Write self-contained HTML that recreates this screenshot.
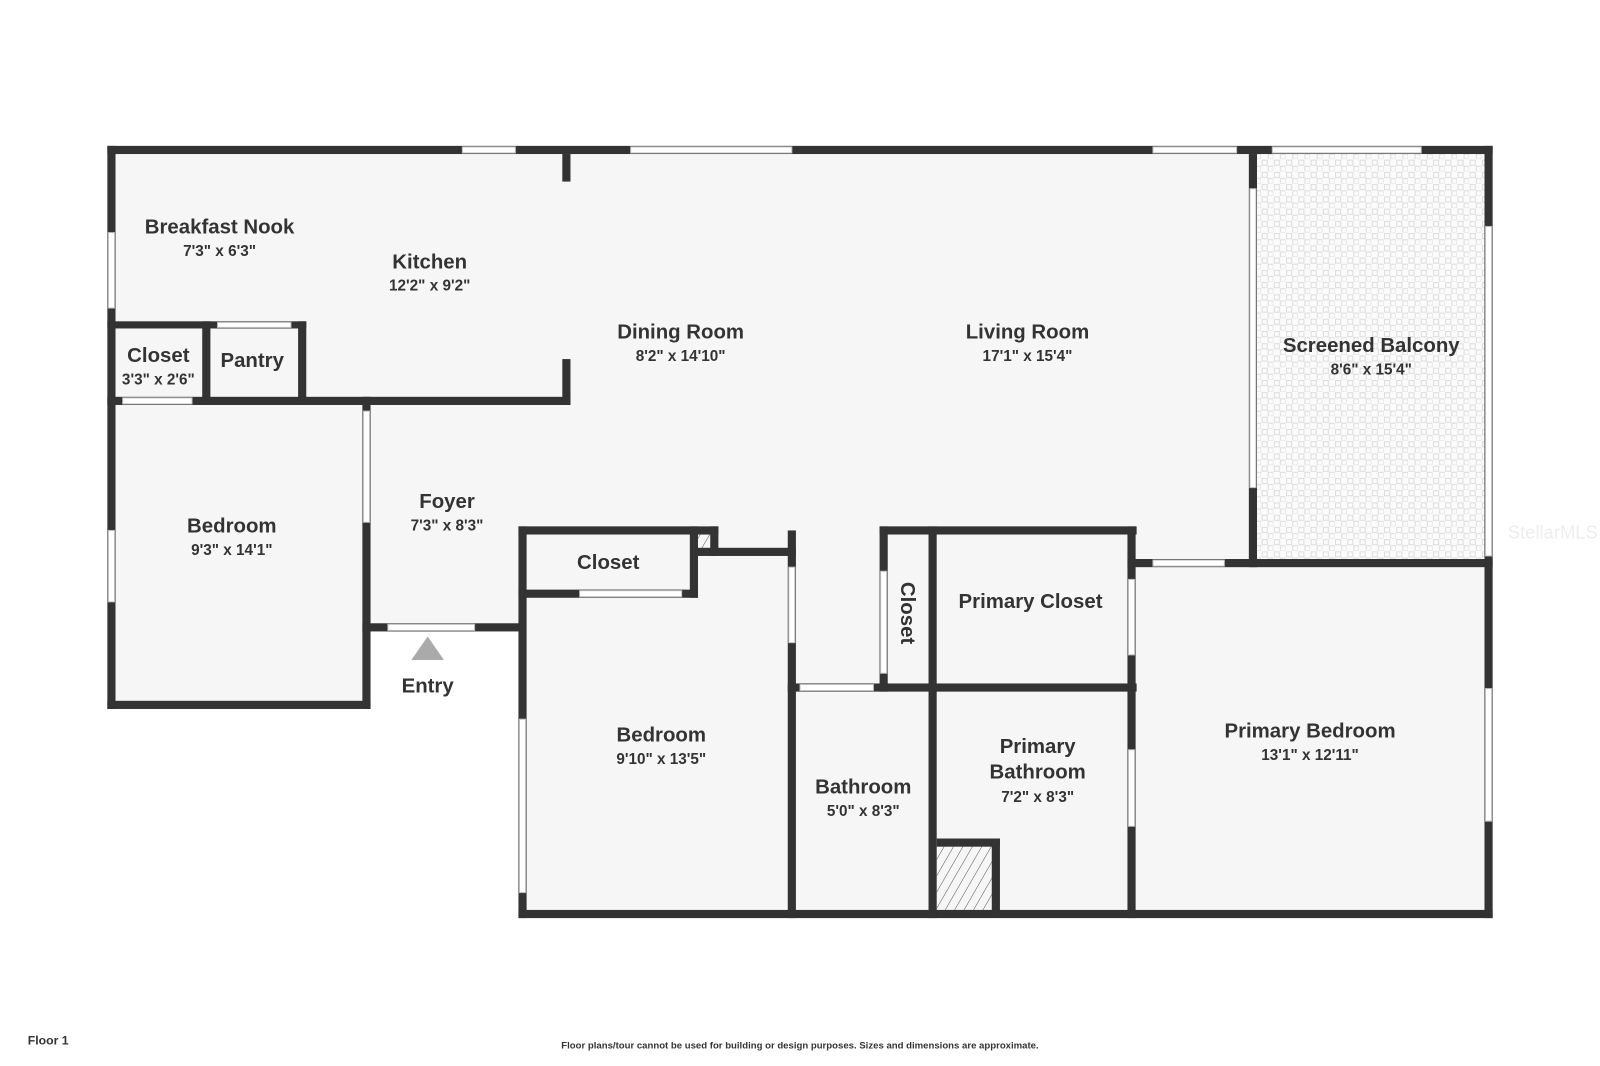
<!DOCTYPE html>
<html><head><style>
html,body{margin:0;padding:0;background:#fff;width:1600px;height:1066px;overflow:hidden}
svg{display:block}
text{font-family:"Liberation Sans",sans-serif;fill:#333;text-anchor:middle}
.n{font-size:20px;font-weight:bold}
.d{font-size:15px;font-weight:bold}
</style></head><body>
<svg width="1600" height="1066" viewBox="0 0 1568 1045" xmlns="http://www.w3.org/2000/svg">
<defs>
<pattern id="tile" width="12" height="12" patternUnits="userSpaceOnUse">
<rect width="12" height="12" fill="#fbfbfb"/>
<rect x="1" y="1" width="5" height="5" fill="none" stroke="#dcdcdc" stroke-width="1"/>
<rect x="7" y="7" width="5" height="5" fill="none" stroke="#dcdcdc" stroke-width="1"/>
</pattern>
<pattern id="hatch" width="8" height="8" patternUnits="userSpaceOnUse" patternTransform="rotate(30)">
<rect width="8" height="8" fill="#f6f6f6"/><line x1="0" y1="0" x2="0" y2="8" stroke="#555" stroke-width="1"/>
</pattern>
</defs>
<g fill="#f6f6f6">
<rect x="109" y="147" width="1120" height="250"/>
<rect x="109" y="390" width="250" height="300"/>
<rect x="355" y="390" width="870" height="130"/>
<rect x="355" y="390" width="160" height="225"/>
<rect x="512" y="520" width="950" height="376"/>
</g>
<rect x="1230" y="150" width="228" height="400" fill="url(#tile)"/>
<rect x="918" y="828" width="56" height="66" fill="url(#hatch)"/>
<rect x="684" y="522" width="14" height="16" fill="url(#hatch)"/>
<g fill="#333">
<rect x="105" y="143" width="1358" height="8"/>
<rect x="105" y="143" width="8" height="552"/>
<rect x="551" y="151" width="8" height="27"/>
<rect x="551" y="352" width="8" height="45"/>
<rect x="105" y="315" width="195" height="7"/>
<rect x="198" y="315" width="8" height="82"/>
<rect x="292" y="315" width="8" height="82"/>
<rect x="105" y="389" width="454" height="8"/>
<rect x="355" y="389" width="8" height="306"/>
<rect x="105" y="687" width="258" height="8"/>
<rect x="355" y="611" width="157" height="8"/>
<rect x="508" y="516" width="196" height="8"/>
<rect x="508" y="516" width="8" height="384"/>
<rect x="676" y="516" width="8" height="70"/>
<rect x="508" y="578" width="176" height="8"/>
<rect x="696" y="516" width="8" height="29"/>
<rect x="684" y="537" width="96" height="8"/>
<rect x="772" y="520" width="8" height="380"/>
<rect x="508" y="892" width="955" height="8"/>
<rect x="772" y="670" width="143" height="8"/>
<rect x="910" y="516" width="8" height="384"/>
<rect x="862" y="516" width="8" height="162"/>
<rect x="862" y="516" width="252" height="8"/>
<rect x="910" y="670" width="204" height="8"/>
<rect x="1105" y="516" width="8" height="384"/>
<rect x="918" y="822" width="62" height="8"/>
<rect x="972" y="822" width="8" height="75"/>
<rect x="1105" y="548" width="358" height="8"/>
<rect x="1224" y="151" width="8" height="405"/>
<rect x="1455" y="143" width="8" height="757"/>
</g>
<g fill="#fff" stroke="#bbb" stroke-width="1">
<rect x="453" y="144" width="52" height="6"/>
<rect x="618" y="144" width="158" height="6"/>
<rect x="1130" y="144" width="82" height="6"/>
<rect x="1247" y="144" width="146" height="6"/>
<rect x="106" y="228" width="6" height="74"/>
<rect x="106" y="520" width="6" height="70"/>
<rect x="213" y="316" width="72" height="5"/>
<rect x="120" y="390" width="68" height="6"/>
<rect x="356" y="403" width="6" height="109"/>
<rect x="380" y="612" width="85" height="6"/>
<rect x="509" y="705" width="6" height="170"/>
<rect x="568" y="579" width="100" height="6"/>
<rect x="773" y="556" width="6" height="74"/>
<rect x="784" y="671" width="72" height="6"/>
<rect x="863" y="560" width="6" height="100"/>
<rect x="1106" y="568" width="6" height="74"/>
<rect x="1106" y="735" width="6" height="75"/>
<rect x="1130" y="549" width="70" height="6"/>
<rect x="1225" y="185" width="6" height="293"/>
<rect x="1456" y="222" width="6" height="323"/>
<rect x="1456" y="675" width="6" height="130"/>
</g>
<polygon points="403,647 435,647 419,624" fill="#aaa"/>
<text class="n" x="215" y="229">Breakfast Nook</text><text class="d" x="215" y="251">7'3" x 6'3"</text>
<text class="n" x="421" y="263">Kitchen</text><text class="d" x="421" y="285">12'2" x 9'2"</text>
<text class="n" x="667" y="332">Dining Room</text><text class="d" x="667" y="354">8'2" x 14'10"</text>
<text class="n" x="1007" y="332">Living Room</text><text class="d" x="1007" y="354">17'1" x 15'4"</text>
<text class="n" x="1344" y="345">Screened Balcony</text><text class="d" x="1344" y="367">8'6" x 15'4"</text>
<text class="n" x="155" y="355">Closet</text><text class="d" x="155" y="377">3'3" x 2'6"</text>
<text class="n" x="247" y="360">Pantry</text>
<text class="n" x="438" y="498">Foyer</text><text class="d" x="438" y="520">7'3" x 8'3"</text>
<text class="n" x="227" y="522">Bedroom</text><text class="d" x="227" y="544">9'3" x 14'1"</text>
<text class="n" x="596" y="558">Closet</text>
<text class="n" x="419" y="679">Entry</text>
<text class="n" x="648" y="727">Bedroom</text><text class="d" x="648" y="749">9'10" x 13'5"</text>
<text class="n" x="846" y="778">Bathroom</text><text class="d" x="846" y="800">5'0" x 8'3"</text>
<text class="n" x="1010" y="596">Primary Closet</text>
<text class="n" x="1017" y="738">Primary</text><text class="n" x="1017" y="763">Bathroom</text><text class="d" x="1017" y="786">7'2" x 8'3"</text>
<text class="n" x="1284" y="723">Primary Bedroom</text><text class="d" x="1284" y="745">13'1" x 12'11"</text>
<text class="n" transform="translate(883,601) rotate(90)">Closet</text>
<text x="1522" y="528" style="font-size:18px;fill:#eee">StellarMLS</text>
<text x="47" y="1024" style="font-size:12px;font-weight:bold">Floor 1</text>
<text x="784" y="1028" style="font-size:9.4px;font-weight:bold">Floor plans/tour cannot be used for building or design purposes. Sizes and dimensions are approximate.</text>
</svg>
</body></html>
